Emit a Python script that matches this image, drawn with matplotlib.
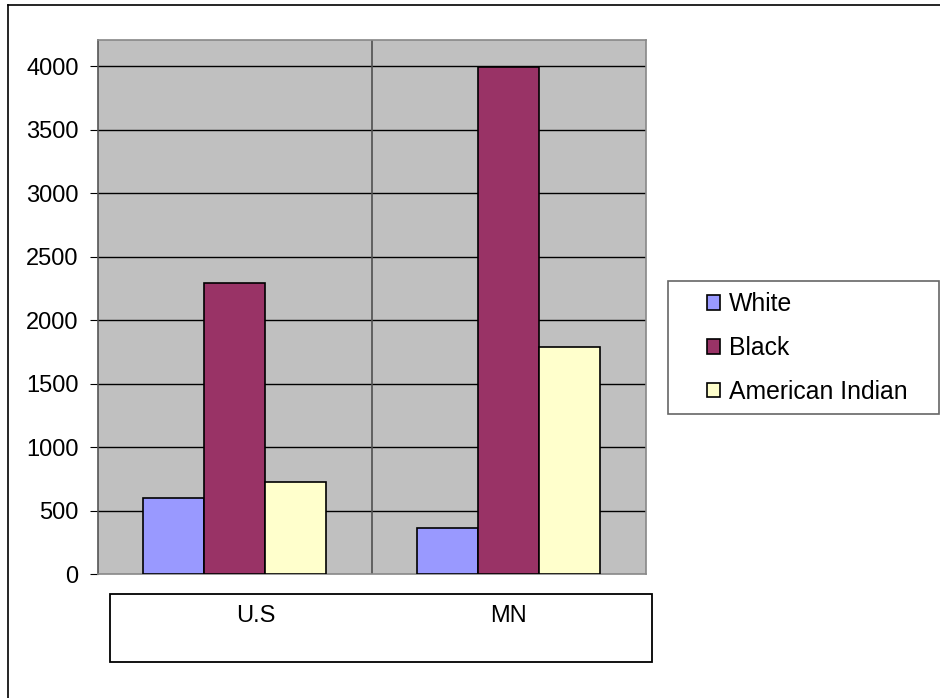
import matplotlib
matplotlib.use("Agg")
import matplotlib.pyplot as plt
from matplotlib.patches import Rectangle
from matplotlib.lines import Line2D
import numpy as np

plt.rcParams['font.family'] = ['Liberation Sans', 'DejaVu Sans']

categories = ["U.S", "MN"]
series_names = ["White", "Black", "American Indian"]
white = [603, 362]
black = [2296, 3990]
american_indian = [729, 1790]
yticks = [0, 500, 1000, 1500, 2000, 2500, 3000, 3500, 4000]

colors = ["#9999FF", "#993366", "#FFFFCC"]

W, H = 940, 698
fig = plt.figure(figsize=(W / 100, H / 100), dpi=100)

def fx(px):
    return px / W

def fy(py):
    return 1 - py / H

# plot area in pixels: left, top, right, bottom
pl, pt, pr, pb = 97.7, 40, 645.7, 574.3
ax = fig.add_axes([fx(pl), fy(pb), fx(pr) - fx(pl), fy(pt) - fy(pb)])
ax.set_facecolor("#C0C0C0")

x = np.arange(len(categories))
bw = 0.2226
for k, vals in enumerate([white, black, american_indian]):
    ax.bar(x + (k - 1) * bw, vals, width=bw, color=colors[k],
           edgecolor="black", linewidth=1.2, zorder=3, label=series_names[k])

ax.set_xlim(-0.5, len(categories) - 0.5)
ax.set_ylim(0, 4205)
ax.set_yticks(yticks)
ax.set_yticklabels([str(v) for v in yticks], fontsize=17)
for v in yticks[1:]:
    ax.axhline(v, color="black", linewidth=1.0, zorder=1)
# category separator
for b in x[:-1] + 0.5:
    ax.axvline(b, color="#505050", linewidth=1.2, zorder=1)

ax.set_xticks([])
ax.tick_params(axis="y", direction="out", length=5.8, width=0.8, pad=8,
               colors="black")
for side in ["top", "right", "bottom"]:
    ax.spines[side].set_color("#888888")
    ax.spines[side].set_linewidth(1.2)
ax.spines["left"].set_color("#555555")
ax.spines["left"].set_linewidth(1.2)

# category label box under the plot
fig.add_artist(Rectangle((fx(110), fy(662.3)), fx(651.7) - fx(110),
                         fy(594.3) - fy(662.3), transform=fig.transFigure,
                         facecolor="none", edgecolor="black", linewidth=1.3))
label_x = [256, 508]
for lx, name in zip(label_x, categories):
    fig.text(fx(lx), fy(621.7), name, ha="center", va="baseline",
             fontsize=17)

# legend frame and entries
fig.add_artist(Rectangle((fx(668), fy(414)), fx(939) - fx(668),
                         fy(281) - fy(414), transform=fig.transFigure,
                         facecolor="white", edgecolor="#666666", linewidth=1.2))
handles, labels = ax.get_legend_handles_labels()
fig.legend(handles, labels, loc="center left",
           bbox_to_anchor=(fx(707), fy(348)), frameon=False, fontsize=17.8,
           borderpad=0, borderaxespad=0, handlelength=0.53, handleheight=0.53,
           handletextpad=0.36, labelspacing=0.8)

# outer chart border (left and top edges)
fig.add_artist(Line2D([fx(8), fx(8)], [0, fy(5)], transform=fig.transFigure,
                      color="black", linewidth=1.2))
fig.add_artist(Line2D([fx(8), 1], [fy(5), fy(5)], transform=fig.transFigure,
                      color="black", linewidth=1.2))

fig.savefig("out.png", dpi=100)
